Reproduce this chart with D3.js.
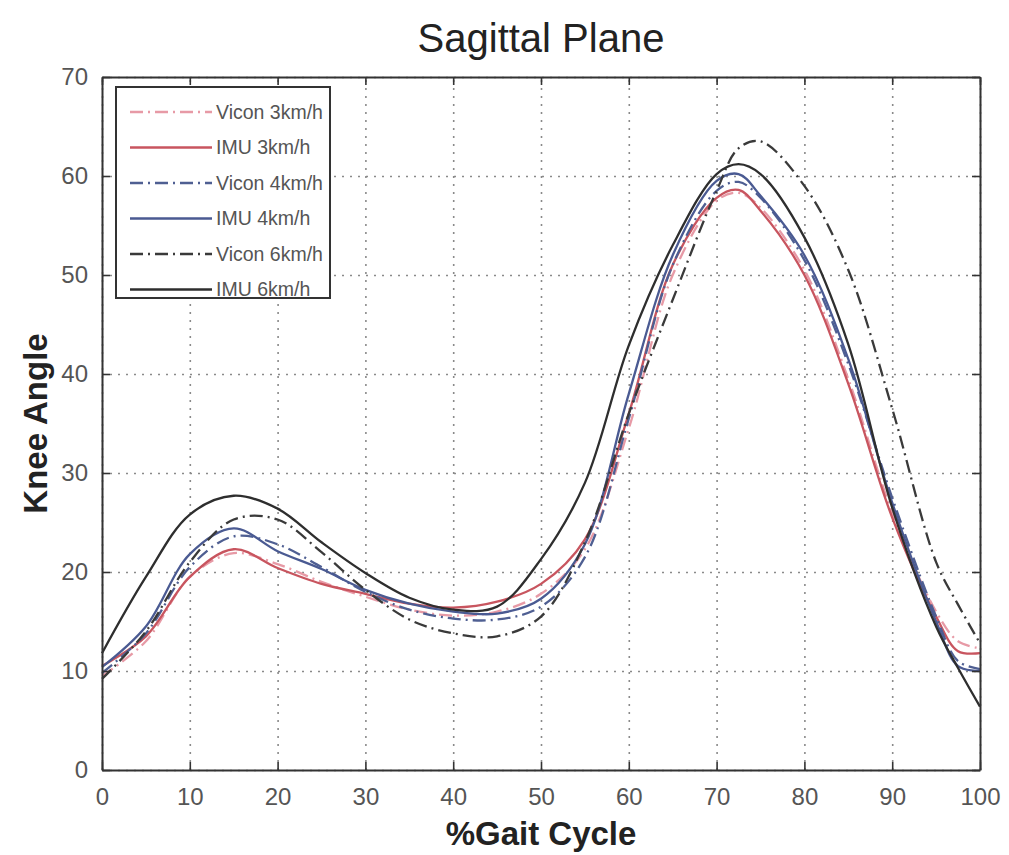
<!DOCTYPE html>
<html>
<head>
<meta charset="utf-8">
<script src="https://cdn.jsdelivr.net/npm/d3@7"></script>
<style>
  html, body { margin: 0; padding: 0; background: #fff; }
  #chart { width: 1009px; height: 855px; }
  text { font-family: "Liberation Sans", Arial, sans-serif; }
</style>
</head>
<body>
<div id="chart"></div>
<script>
// % gait cycle sample points shared by all curves
const gaitPct = [0, 5, 10, 15, 20, 25, 30, 35, 40, 45, 50, 55, 60, 65, 70, 72.5, 75, 80, 85, 90, 95, 97.5, 100];

const vicon3 = [9.5, 13.0, 19.5, 21.9, 20.8, 19.0, 17.5, 16.2, 15.6, 16.0, 17.8, 22.3, 34.5, 50.0, 57.5, 58.3, 56.8, 50.5, 39.5, 26.0, 16.0, 13.0, 12.3];
const imu3   = [10.5, 13.5, 19.5, 22.3, 20.4, 18.8, 17.8, 16.8, 16.4, 17.0, 18.8, 23.3, 36.0, 51.0, 57.8, 58.6, 56.5, 50.0, 39.0, 25.5, 15.5, 12.0, 11.8];
const vicon4 = [9.8, 13.8, 20.5, 23.6, 22.8, 20.5, 18.0, 16.2, 15.3, 15.2, 16.5, 21.5, 35.5, 51.0, 58.5, 59.4, 57.8, 51.5, 41.0, 27.5, 15.5, 11.0, 10.2];
const imu4   = [10.4, 14.5, 21.8, 24.4, 22.1, 20.3, 18.2, 16.8, 16.0, 15.8, 17.3, 22.8, 38.0, 52.0, 59.5, 60.2, 58.0, 52.0, 41.5, 27.0, 15.0, 10.5, 10.0];
const vicon6 = [9.2, 14.0, 21.0, 25.3, 25.3, 22.0, 18.2, 15.2, 13.8, 13.5, 15.5, 23.0, 36.0, 47.5, 58.5, 62.8, 63.5, 59.0, 50.5, 36.5, 21.0, 16.7, 12.8];
const imu6   = [11.8, 19.5, 25.8, 27.7, 26.4, 23.0, 19.9, 17.4, 16.2, 16.5, 21.3, 29.0, 42.9, 53.0, 60.2, 61.2, 60.2, 53.8, 43.0, 26.5, 14.5, 10.3, 6.4];

const seriesNames = ["Vicon 3km/h", "IMU 3km/h", "Vicon 4km/h", "IMU 4km/h", "Vicon 6km/h", "IMU 6km/h"];
const seriesValues = [vicon3, imu3, vicon4, imu4, vicon6, imu6];
const seriesColors = ["#e79aa6", "#c8555f", "#4f5f92", "#4a5a92", "#3a3a3a", "#2e2e2e"];
const seriesDashed = [true, false, true, false, true, false];

const xTicks = [0, 10, 20, 30, 40, 50, 60, 70, 80, 90, 100];
const yTicks = [0, 10, 20, 30, 40, 50, 60, 70];

document.addEventListener("DOMContentLoaded", function () {
    const width = 1009;
    const height = 855;
    const margin = { top: 77, right: 29, bottom: 85, left: 102 };
    const innerW = width - margin.left - margin.right;
    const innerH = height - margin.top - margin.bottom;

    const svg = d3.select("#chart").append("svg")
        .attr("width", width)
        .attr("height", height);

    svg.append("rect")
        .attr("width", width)
        .attr("height", height)
        .attr("fill", "#fff");

    const g = svg.append("g")
        .attr("transform", `translate(${margin.left},${margin.top})`);

    const x = d3.scaleLinear().domain([0, 100]).range([0, innerW]);
    const y = d3.scaleLinear().domain([0, 70]).range([innerH, 0]);

    // dotted grid
    g.append("g")
        .attr("class", "grid")
        .attr("transform", `translate(0,${innerH})`)
        .call(d3.axisBottom(x).tickValues(xTicks).tickSize(-innerH).tickFormat(""))
        .call(s => s.select(".domain").remove());
    g.append("g")
        .attr("class", "grid")
        .call(d3.axisLeft(y).tickValues(yTicks).tickSize(-innerW).tickFormat(""))
        .call(s => s.select(".domain").remove());
    g.selectAll(".grid line")
        .attr("stroke", "#8a8a8a")
        .attr("stroke-width", 1.6)
        .attr("stroke-dasharray", "2,6");

    // curves
    const line = d3.line()
        .x((d, i) => x(gaitPct[i]))
        .y(d => y(d))
        .curve(d3.curveCatmullRom.alpha(0.5));

    seriesValues.forEach((vals, k) => {
        g.append("path")
            .datum(vals)
            .attr("fill", "none")
            .attr("stroke", seriesColors[k])
            .attr("stroke-width", 2.3)
            .attr("stroke-dasharray", seriesDashed[k] ? "13,5,2,5" : null)
            .attr("d", line);
    });

    // axes, ticks drawn inward on all four sides
    const tickLen = 8;
    const xAxis = g.append("g")
        .attr("transform", `translate(0,${innerH})`)
        .call(d3.axisBottom(x).tickValues(xTicks).tickSizeInner(-tickLen).tickSizeOuter(0).tickPadding(18));
    const yAxis = g.append("g")
        .call(d3.axisLeft(y).tickValues(yTicks).tickSizeInner(-tickLen).tickSizeOuter(0).tickPadding(14));
    const xTop = g.append("g")
        .call(d3.axisTop(x).tickValues(xTicks).tickSizeInner(-tickLen).tickSizeOuter(0).tickFormat(""));
    const yRight = g.append("g")
        .attr("transform", `translate(${innerW},0)`)
        .call(d3.axisRight(y).tickValues(yTicks).tickSizeInner(-tickLen).tickSizeOuter(0).tickFormat(""));

    [xAxis, yAxis, xTop, yRight].forEach(a => {
        a.selectAll(".domain").attr("stroke", "#333").attr("stroke-width", 2);
        a.selectAll(".tick line").attr("stroke", "#333").attr("stroke-width", 1.6);
        a.selectAll(".tick text")
            .attr("fill", "#555")
            .style("font-size", "24px");
    });
    xAxis.selectAll(".tick text").attr("dy", "0.71em");

    // legend
    const legend = g.append("g").attr("transform", "translate(14,10)");
    legend.append("rect")
        .attr("width", 214)
        .attr("height", 211)
        .attr("fill", "#fff")
        .attr("stroke", "#333")
        .attr("stroke-width", 2);

    seriesNames.forEach((name, k) => {
        const ly = 25 + k * 35.5;
        legend.append("line")
            .attr("x1", 14).attr("x2", 96)
            .attr("y1", ly).attr("y2", ly)
            .attr("stroke", seriesColors[k])
            .attr("stroke-width", 2.3)
            .attr("stroke-dasharray", seriesDashed[k] ? "13,5,2,5" : null);
        legend.append("text")
            .attr("x", 100)
            .attr("y", ly)
            .attr("dy", "0.35em")
            .attr("fill", "#555")
            .style("font-size", "19.5px")
            .text(name);
    });

    // titles
    svg.append("text")
        .attr("x", margin.left + innerW / 2)
        .attr("y", 52)
        .attr("text-anchor", "middle")
        .attr("fill", "#222")
        .style("font-size", "40px")
        .text("Sagittal Plane");

    svg.append("text")
        .attr("x", margin.left + innerW / 2)
        .attr("y", 845)
        .attr("text-anchor", "middle")
        .attr("fill", "#222")
        .style("font-size", "33px")
        .style("font-weight", "bold")
        .text("%Gait Cycle");

    svg.append("text")
        .attr("transform", `translate(47,${margin.top + innerH / 2}) rotate(-90)`)
        .attr("text-anchor", "middle")
        .attr("fill", "#222")
        .style("font-size", "33px")
        .style("font-weight", "bold")
        .text("Knee Angle");
});
</script>
</body>
</html>
